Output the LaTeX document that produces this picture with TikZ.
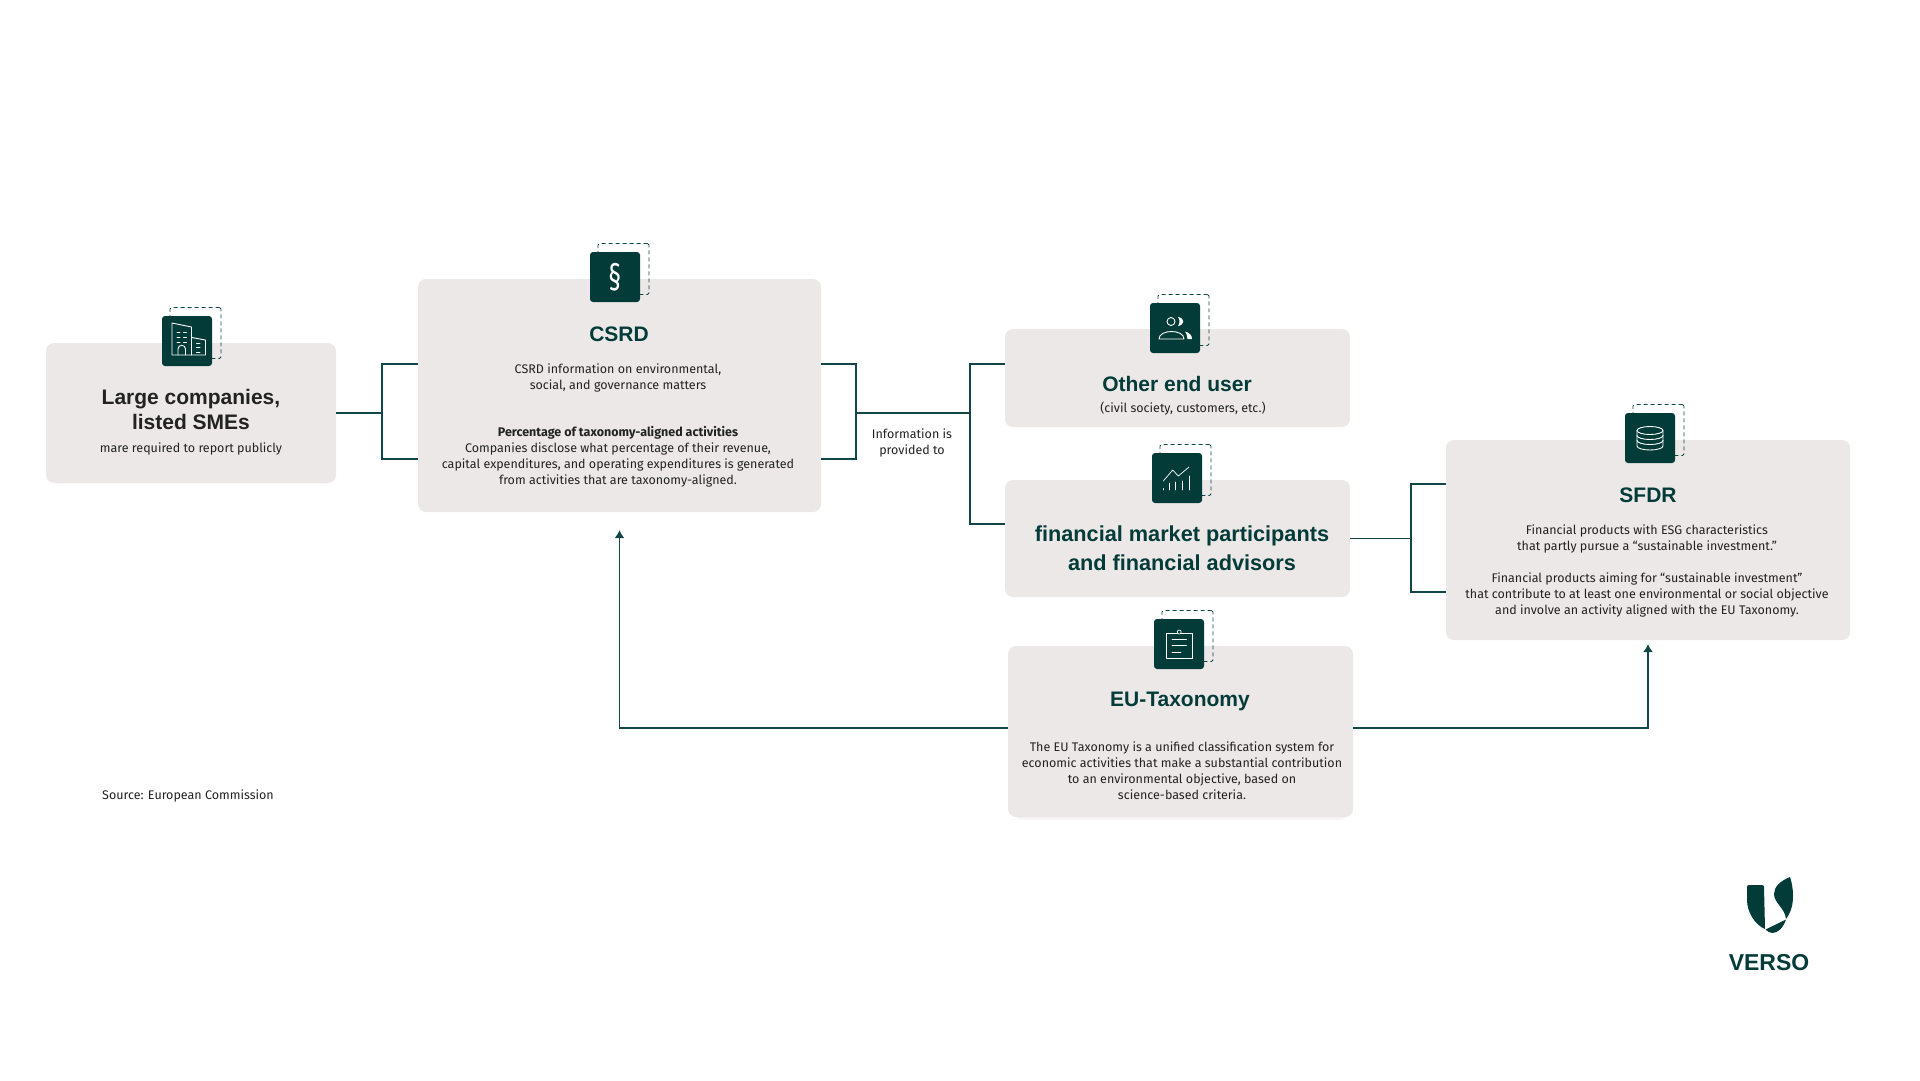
\documentclass[tikz,border=0pt]{standalone}
\usepackage{fontspec}
\setmainfont{Fira Sans}
\newfontfamily\headfont{Liberation Sans}
\usetikzlibrary{arrows.meta}
\definecolor{versogreen}{HTML}{033B39}
\definecolor{linkgreen}{HTML}{134648}
\definecolor{boxgrey}{HTML}{EBE8E7}
\definecolor{inktext}{HTML}{222222}
\tikzset{panel/.style={shape=rectangle,fill=boxgrey,rounded corners=8pt,inner sep=0pt},
        iconback/.style={shape=rectangle,draw=linkgreen,dash pattern=on 4pt off 3pt,line width=0.8pt,rounded corners=1.5pt,minimum size=51pt,inner sep=0pt},
        iconbox/.style={shape=rectangle,fill=versogreen,rounded corners=3pt,minimum size=50pt,inner sep=0pt},
        glyph/.style={draw=white,line width=0.9pt,line cap=round,line join=round},
        link/.style={draw=linkgreen,line width=1.3pt},
        head/.style={font=\headfont\bfseries\fontsize{21}{25}\selectfont,text=versogreen,align=center,inner sep=0pt},
        body/.style={font=\fontsize{12.5}{16}\selectfont,text=inktext,align=center,inner sep=0pt}}

\begin{document}
\begin{tikzpicture}[x=1pt,y=-1pt]
        \useasboundingbox (0,0) rectangle (1920,1080);

        \node[panel,fill=boxgrey!50!white,minimum width=333pt,minimum height=171pt] (eurim) at (1181,734) {};
        \node[panel,minimum width=290pt,minimum height=140pt] (large) at (191,413) {};
        \node[panel,minimum width=403pt,minimum height=233pt] (csrd) at (619.5,395.5) {};
        \node[panel,minimum width=345pt,minimum height=98pt] (other) at (1177.5,378) {};
        \node[panel,minimum width=345pt,minimum height=117pt] (fin) at (1177.5,538.5) {};
        \node[panel,minimum width=345pt,minimum height=171pt] (eu) at (1180.5,731.5) {};
        \node[panel,minimum width=404pt,minimum height=200pt] (sfdr) at (1648,540) {};

        % icons
        \foreach \name/\x/\y in {large/187/341,csrd/615/277,other/1175/328,fin/1177/478,eu/1179/644,sfdr/1650/438}{
          \node[iconback] (back\name) at (\x+8.5,\y-8) {};
          \node[iconbox] (icon\name) at (\x,\y) {};
        }

        \begin{scope}[shift={(iconlarge.center)}]
          \draw[glyph] (-15,14) -- (-15,-18) -- (4.5,-14) -- (4.5,14) -- cycle;
          \draw[glyph] (4.5,-3.5) -- (18.5,-1) -- (18.5,14) -- (4.5,14);
          \draw[glyph] (-9,14) -- (-9,8) arc (180:360:3.75) -- (-1.5,14);
          \foreach \wy in {-9,-4,1}{
            \draw[glyph] (-10,\wy) -- (-7,\wy);
            \draw[glyph] (-3.5,\wy) -- (-0.5,\wy);
          }
          \foreach \wy in {2,6.5,11}{
            \draw[glyph] (9.5,\wy) -- (13,\wy);
          }
        \end{scope}

        \node[text=white,inner sep=0pt,font=\fontsize{24}{24}\selectfont] (sectionmark) at (iconcsrd.center) {\scalebox{1.05}[1.55]{§}};

        \begin{scope}[shift={(iconother.center)}]
          \draw[glyph] (-4,-6.5) circle (4);
          \fill[white] (3,-11) .. controls (10,-10) and (10,-3) .. (3,-2) .. controls (5,-5) and (5,-8) .. (3,-11) -- cycle;
          \draw[glyph] (-16,11) .. controls (-16,1) and (9,1) .. (9,11) -- cycle;
          \fill[white] (10,3.5) .. controls (14,4.5) and (17,7) .. (17,11) -- (12.5,11) .. controls (12.5,8) and (11.5,5.5) .. (10,3.5) -- cycle;
        \end{scope}

        \begin{scope}[shift={(iconfin.center)}]
          \draw[glyph,line width=0.7pt] (-13.7,3) -- (-4.3,-8) -- (1.3,-2) -- (12,-11);
          \foreach \bx/\by in {-13.7/10.5,-7.7/5,-1.3/4,5/3,12/-2}{
            \draw[glyph,line width=0.7pt] (\bx,12) -- (\bx,\by);
          }
        \end{scope}

        \begin{scope}[shift={(iconeu.center)}]
          \draw[glyph] (-13,-11) rectangle (13.3,14.7);
          \draw[glyph,line width=0.7pt,fill=versogreen] (0.2,-12) circle (2);
          \draw[glyph] (-7,-5) -- (7.3,-5);
          \draw[glyph] (-7,1.5) -- (7.3,1.5);
          \draw[glyph] (-7,8) -- (2,8);
        \end{scope}

        \begin{scope}[shift={(iconsfdr.center)}]
          \draw[glyph] (0,-7.5) ellipse (13 and 4);
          \draw[glyph] (-13,-7.5) -- (-13,8) arc (180:0:13 and 4) -- (13,-7.5);
          \draw[glyph] (-13,-2.5) arc (180:0:13 and 4);
          \draw[glyph] (-13,2.5) arc (180:0:13 and 4);
        \end{scope}

        % texts
        \node[head,text=inktext] (largehead) at (191,409.5) {Large companies,\\listed SMEs};
        \node[body] (largebody) at (191,449) {mare required to report publicly};
        \node[head] (csrdhead) at (619,334) {CSRD};
        \node[body] (csrdbodya) at (618,378) {CSRD information on environmental,\\social, and governance matters};
        \node[body] (csrdbodyb) at (618,457) {\textbf{Percentage of taxonomy-aligned activities}\\Companies disclose what percentage of their revenue,\\capital expenditures, and operating expenditures is generated\\from activities that are taxonomy-aligned.};
        \node[head] (otherhead) at (1177,384) {Other end user};
        \node[body] (otherbody) at (1183,409) {(civil society, customers, etc.)};
        \node[head,font=\headfont\bfseries\fontsize{21.7}{29}\selectfont] (finhead) at (1182,548.5) {financial market participants\\and financial advisors};
        \node[head] (euhead) at (1180,701) {EU-Taxonomy};
        \node[body] (eubody) at (1182,771) {The EU Taxonomy is a unified classification system for\\economic activities that make a substantial contribution\\to an environmental objective, based on\\science-based criteria.};
        \node[head] (sfdrhead) at (1648,495) {SFDR};
        \node[body] (sfdrbodya) at (1647,539) {Financial products with ESG characteristics\\that partly pursue a “sustainable investment.”};
        \node[body] (sfdrbodyb) at (1647,595) {Financial products aiming for “sustainable investment”\\that contribute to at least one environmental or social objective\\and involve an activity aligned with the EU Taxonomy.};
        \node[body] (infolabel) at (912,443) {Information is\\provided to};
        \node[body,anchor=west] (source) at (102,795.5) {Source: European Commission};

        % connectors
        \coordinate (joinlarge) at (382,413);
        \coordinate (joincsrd) at (856,413);
        \coordinate (joinusers) at (970,413);
        \coordinate (joinfin) at (1411,538.5);
        \coordinate (lanehigh) at (0,364);
        \coordinate (lanelow) at (0,459);
        \coordinate (lanefin) at (0,524);
        \coordinate (lanesfdra) at (0,484);
        \coordinate (lanesfdrb) at (0,592);
        \coordinate (laneeu) at (0,728);

        \path[link] (large.east) -- (joinlarge);
        \path[link] (csrd.west |- lanehigh) -| (joinlarge) |- (csrd.west |- lanelow);
        \path[link] (csrd.east |- lanehigh) -| (joincsrd) |- (csrd.east |- lanelow);
        \path[link] (joincsrd) -- (joinusers);
        \path[link] (other.west |- lanehigh) -| (joinusers) |- (fin.west |- lanefin);
        \path[link] (fin.east) -- (joinfin);
        \path[link] (sfdr.west |- lanesfdra) -| (joinfin) |- (sfdr.west |- lanesfdrb);
        \path[link,-{Latex[length=8pt,width=10pt]},shorten >=18pt] (eu.west |- laneeu) -| (csrd.south);
        \path[link,-{Latex[length=8pt,width=10pt]},shorten >=4pt] (eu.east |- laneeu) -| (sfdr.south);

        % logo
        \fill[versogreen] (1747,887) .. controls (1747,885.5) and (1748,885) .. (1749,885) -- (1762,885) .. controls (1763.5,885) and (1764,886) .. (1764,887) -- (1765,929) .. controls (1755,925) and (1747,912) .. (1747,900) -- cycle;
        \fill[versogreen] (1765.5,929.5) -- (1786,919.5) .. controls (1783,928) and (1778,933) .. (1772,933) .. controls (1770,933) and (1767,931) .. (1765.5,929.5) -- cycle;
        \fill[versogreen] (1790,877) .. controls (1780,881) and (1774,887) .. (1774,894) .. controls (1774,903) and (1785,908) .. (1786,919) .. controls (1791,912) and (1793,905) .. (1793,896) .. controls (1793,889) and (1792,883) .. (1790,877) -- cycle;
        \node[head,font=\headfont\bfseries\fontsize{23}{25}\selectfont] (logotext) at (1769,963) {VERSO};
\end{tikzpicture}
\end{document}
